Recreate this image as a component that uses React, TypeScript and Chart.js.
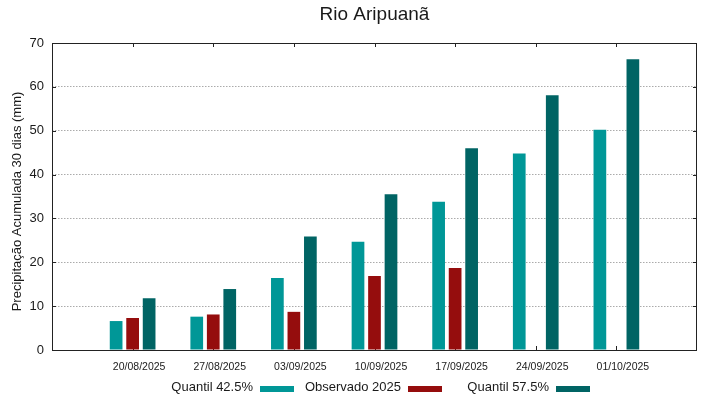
import { useEffect, useRef } from 'react';
import { Chart, registerables } from 'chart.js';

Chart.register(...registerables);

const chartTitle = 'Rio Aripuanã';
const yAxisTitle = 'Precipitação Acumulada 30 dias (mm)';
const categories = ['20/08/2025', '27/08/2025', '03/09/2025', '10/09/2025', '17/09/2025', '24/09/2025', '01/10/2025'];
const quantil425 = [6.6, 7.6, 16.4, 24.7, 33.8, 44.8, 50.2];
const observado2025 = [7.3, 8.1, 8.7, 16.9, 18.7, null, null];
const quantil575 = [11.8, 13.9, 25.9, 35.5, 46.0, 58.1, 66.3];
const yMin = 0;
const yMax = 70;
const yStep = 10;
const seriesLabels = ['Quantil 42.5%', 'Observado 2025', 'Quantil 57.5%'];
const seriesColors = ['#009797', '#950d0d', '#006464'];

const FONT = "'Liberation Sans', Arial, Helvetica, sans-serif";
const TEXT = '#1a1a1a';

// padded category labels so the plot spans one empty slot on each side
const labels = ['', ...categories, ''];
const pad = (arr: (number | null)[]) => [null, ...arr, null];

const framePlugin = {
  id: 'frame',
  beforeDatasetsDraw(chart: any) {
    const { ctx, chartArea, scales } = chart;
    const { left, right, top, bottom } = chartArea;
    const x = scales.x;
    const y = scales.y;
    ctx.save();
    ctx.strokeStyle = '#222';
    ctx.lineWidth = 1;
    ctx.beginPath();
    for (let i = 1; i <= categories.length; i++) {
      const px = Math.round(x.getPixelForValue(i)) + 0.5;
      ctx.moveTo(px, bottom);
      ctx.lineTo(px, bottom - 4);
      ctx.moveTo(px, top);
      ctx.lineTo(px, top + 4);
    }
    y.ticks.forEach((t: any) => {
      const py = Math.round(y.getPixelForValue(t.value)) + 0.5;
      ctx.moveTo(left, py);
      ctx.lineTo(left + 4, py);
      ctx.moveTo(right, py);
      ctx.lineTo(right - 4, py);
    });
    ctx.stroke();
    ctx.restore();
  },
  afterDatasetsDraw(chart: any) {
    const { ctx, chartArea } = chart;
    const { left, right, top, bottom } = chartArea;
    ctx.save();
    ctx.strokeStyle = '#222';
    ctx.lineWidth = 1;
    ctx.strokeRect(Math.round(left) + 0.5, Math.round(top) + 0.5, Math.round(right - left) - 1, Math.round(bottom - top));
    ctx.restore();
  },
  afterDraw(chart: any) {
    const { ctx, chartArea } = chart;
    const cx = (chartArea.left + chartArea.right) / 2;
    const cy = (chartArea.top + chartArea.bottom) / 2;
    ctx.save();
    ctx.fillStyle = TEXT;
    ctx.font = `19px ${FONT}`;
    ctx.textAlign = 'center';
    ctx.textBaseline = 'middle';
    ctx.fillText(chartTitle, cx, 15);

    // y axis title
    ctx.save();
    ctx.translate(17, cy + 5);
    ctx.rotate(-Math.PI / 2);
    ctx.font = `13px ${FONT}`;
    ctx.fillText(yAxisTitle, 0, 0);
    ctx.restore();

    // legend
    ctx.font = `13px ${FONT}`;
    ctx.textAlign = 'right';
    const startX = cx - 114.5;
    const colW = 148;
    seriesLabels.forEach((lab, i) => {
      const sx = startX + i * colW;
      ctx.fillStyle = TEXT;
      ctx.fillText(lab, sx - 7, 387);
      ctx.fillStyle = seriesColors[i];
      ctx.fillRect(sx, 386, 34, 6);
    });
    ctx.restore();
  },
};

export default function App() {
  const ref = useRef<HTMLCanvasElement | null>(null);

  useEffect(() => {
    document.body.style.margin = '0';
    if (!ref.current) return;
    const chart = new Chart(ref.current, {
      type: 'bar',
      data: {
        labels,
        datasets: [
          { label: seriesLabels[0], data: pad(quantil425), backgroundColor: seriesColors[0], borderWidth: 0 },
          { label: seriesLabels[1], data: pad(observado2025), backgroundColor: seriesColors[1], borderWidth: 0 },
          { label: seriesLabels[2], data: pad(quantil575), backgroundColor: seriesColors[2], borderWidth: 0 },
        ],
      },
      options: {
        animation: false,
        responsive: false,
        maintainAspectRatio: false,
        layout: { padding: { top: 43, right: 22, left: 0, bottom: 0 } },
        datasets: {
          bar: { categoryPercentage: 0.614, barPercentage: 0.77, skipNull: false },
        },
        plugins: {
          legend: { display: false },
          title: { display: false },
          tooltip: { enabled: false },
        },
        scales: {
          x: {
            type: 'category',
            offset: false,
            grid: { display: false, drawTicks: false },
            border: { display: false },
            ticks: {
              autoSkip: false,
              maxRotation: 0,
              padding: 11,
              labelOffset: 6.5,
              color: TEXT,
              font: { family: FONT, size: 10.5 },
            },
            afterFit: (s: any) => {
              s.height = 49;
            },
          },
          y: {
            min: yMin,
            max: yMax,
            grid: { display: true, drawTicks: false, color: '#ababab', lineWidth: 1 },
            border: { display: false, dash: [1.5, 1.5] },
            ticks: {
              stepSize: yStep,
              padding: 8,
              color: TEXT,
              font: { family: FONT, size: 13 },
            },
            title: { display: false },
            afterFit: (s: any) => {
              s.width = 52;
            },
          },
        },
      },
      plugins: [framePlugin],
    });
    return () => chart.destroy();
  }, []);

  return (
    <div style={{ position: 'absolute', left: 0, top: 0, width: 719, height: 399 }}>
      <canvas ref={ref} width={719} height={399} />
    </div>
  );
}
